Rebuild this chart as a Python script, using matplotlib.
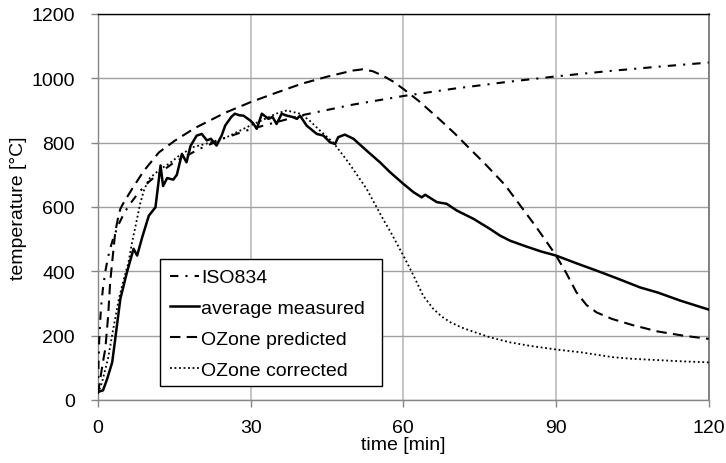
import matplotlib
matplotlib.use("Agg")
import matplotlib.pyplot as plt
from matplotlib.patches import Rectangle

# ---------------- data ----------------
iso_t = [0, 0.1, 0.25, 0.5, 0.75, 1, 1.5, 2, 2.5, 3, 4, 5, 6, 8, 10, 12, 15, 20, 25,
         30, 40, 50, 60, 70, 80, 90, 100, 110, 120]
iso_T = [20, 108, 185, 261, 312, 349, 404, 445, 476, 502, 544, 576, 603, 645, 678, 705,
         739, 781, 815, 842, 885, 918, 945, 968, 988, 1006, 1022, 1036, 1049]

meas_t = [0, 1, 1.8, 2.8, 3.4, 4.4, 5.7, 7.0, 7.7, 8.7, 10, 11.3, 12.3, 12.8, 13.6,
          14.8, 15.5, 16.5, 17.4, 18.2, 19.4, 20.4, 21.4, 22.2, 23.3, 24.3, 25, 26.2,
          26.9, 27.8, 28.6, 29.9, 30.5, 31.2, 32.2, 33.5, 34.3, 35.1, 36.1, 37.1, 38.2,
          39.1, 39.7, 41, 42, 43, 44.3, 45.6, 46.6, 47.2, 48.5, 50.2, 52.8, 55.4, 57.4,
          60, 62, 63.6, 64.3, 66.6, 68.5, 70.5, 73.8, 77, 79, 81, 84, 87, 90, 94, 98,
          102, 106.5, 110, 114.4, 117, 120]
meas_T = [25, 30, 65, 117, 190, 314, 397, 470, 449, 506, 573, 599, 729, 665, 690,
          685, 700, 765, 739, 790, 822, 827, 807, 812, 791, 822, 853, 880,
          890, 885, 884, 869, 860, 843, 890, 874, 880, 858, 890, 884, 880,
          874, 884, 853, 840, 827, 822, 801, 796, 817, 825, 812, 775, 739, 708,
          672, 646, 630, 638, 615, 610, 589, 563, 532, 511, 495, 478, 462, 449, 425, 402,
          378, 350, 334, 309, 296, 281]

pred_t = [0, 0.5, 1, 1.45, 2, 2.4, 3, 3.4, 4, 4.4, 5, 6.7, 9, 12, 15, 19, 25, 30, 35,
          40, 45, 50, 52, 54, 56, 58, 60, 63, 67, 70, 73, 76, 80, 83, 86, 88, 90, 92,
          94, 96, 98, 101, 105, 110, 115, 120]
pred_T = [20, 70, 120, 159, 260, 366, 460, 522, 570, 594, 612, 656, 712, 770, 805, 845,
          893, 926, 955, 983, 1005, 1024, 1028, 1022, 1008, 990, 967, 930, 874, 830, 782,
          735, 668, 604, 540, 495, 449, 395, 335, 295, 272, 252, 233, 213, 200, 190]

corr_t = [0, 0.8, 2, 3, 4.1, 5, 6, 6.7, 7.4, 8.3, 9, 10, 12, 14, 16, 18.7, 22, 25.3,
          29.9, 33, 35, 37.1, 39.7, 41.5, 43.6, 46.2, 49.2, 52.8, 56.1, 57.4, 60, 62,
          63.9, 65.9, 67.5, 69.2, 71.5, 73.8, 77, 81, 85, 90, 95, 101.2, 105, 110, 115, 120]
corr_T = [20, 55, 130, 220, 314, 370, 428, 490, 542, 610, 650, 687, 715, 735, 760, 786,
          800, 817, 853, 875, 890, 900, 890, 870, 838, 801, 739, 656, 560, 525, 449, 387,
          324, 283, 260, 242, 225, 212, 195, 179, 168, 157, 148, 133, 128, 124, 120, 117]

labels = ["ISO834", "average measured", "OZone predicted", "OZone corrected"]
x_ticks = [0, 30, 60, 90, 120]
y_ticks = [0, 200, 400, 600, 800, 1000, 1200]

# ---------------- figure ----------------
plt.rcParams['font.family'] = ['Liberation Sans', 'DejaVu Sans']
FS = 14

fig = plt.figure(figsize=(7.26, 4.64), dpi=100)
ax = fig.add_axes([0.1349, 0.1358, 0.9762 - 0.1349, 0.9677 - 0.1358])

ax.plot(iso_t, iso_T, color='black', lw=1.5, linestyle=(0, (4, 3.4, 1, 3.4)),
        label=labels[0], zorder=3)
ax.plot(meas_t, meas_T, color='black', lw=1.8, linestyle='-', label=labels[1], zorder=4)
ax.plot(pred_t, pred_T, color='black', lw=1.5, linestyle=(0, (5, 3)), label=labels[2], zorder=3)
ax.plot(corr_t, corr_T, color='black', lw=1.3, linestyle=(0, (1, 1.5)), label=labels[3], zorder=3)

ax.set_xlim(0, 120)
ax.set_ylim(0, 1200)
ax.set_xticks(x_ticks)
ax.set_yticks(y_ticks)

ax.grid(axis='x', color='#c0c0c0', lw=1.3, zorder=0)
ax.grid(axis='y', color='#a0a0a0', lw=1.0, zorder=0)
ax.set_axisbelow(True)

for side in ['left', 'bottom']:
    ax.spines[side].set_color('#868686')
    ax.spines[side].set_linewidth(1.0)
ax.spines['top'].set_color('black')
ax.spines['top'].set_linewidth(1.0)
ax.spines['right'].set_color('#7a7a7a')
ax.spines['right'].set_linewidth(1.3)

ax.tick_params(axis='both', direction='out', length=5, width=1, color='#868686',
               labelsize=FS, labelcolor='black')
ax.tick_params(axis='y', pad=11.5)
ax.tick_params(axis='x', pad=9)

ax.set_xlabel("time [min]", fontsize=FS, labelpad=0)
ax.set_ylabel("temperature [°C]", fontsize=FS, labelpad=3)

# legend frame drawn as a plain rectangle (Excel-like wide box)
frame = Rectangle((0.1017, 0.0363), 0.4651 - 0.1017, 0.3653 - 0.0363,
                  transform=ax.transAxes, facecolor='white', edgecolor='black',
                  lw=1.0, zorder=5)
ax.add_patch(frame)

leg = ax.legend(loc='upper left', bbox_to_anchor=(0.1017, 0.3653), borderaxespad=0,
                fontsize=14, frameon=False, handlelength=1.5, handletextpad=0.1,
                labelspacing=0.68, borderpad=0.5)
leg.set_zorder(6)

fig.savefig("out.png", dpi=100)
